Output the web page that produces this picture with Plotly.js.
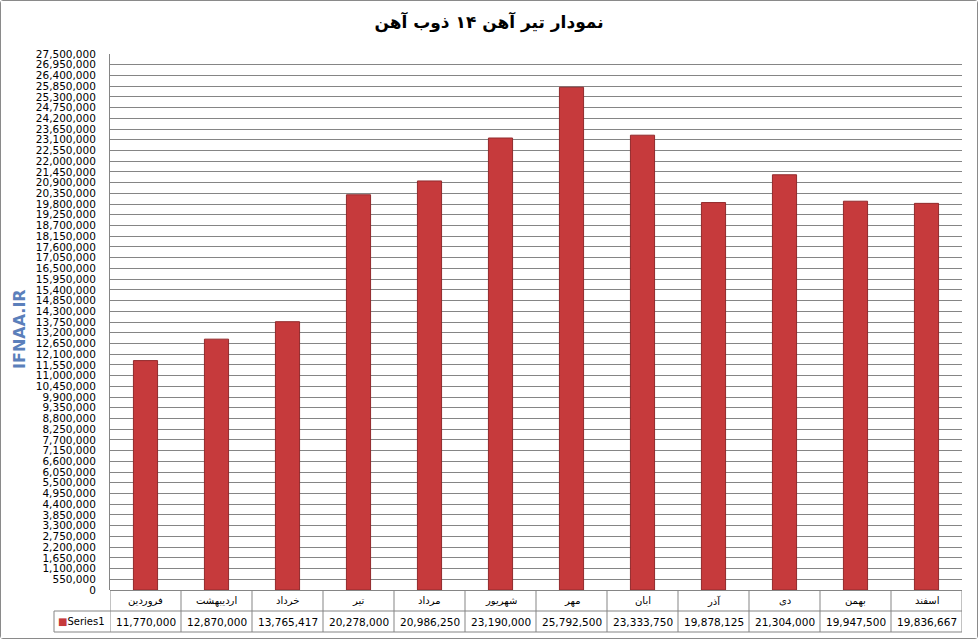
<!DOCTYPE html>
<html>
<head>
<meta charset="utf-8">
<script src="https://cdn.plot.ly/plotly-3.0.1.min.js"></script>
<style>
  html, body { margin: 0; padding: 0; background: #fff; }
  #chart { width: 976px; height: 637px; border: 1px solid #8a8a8a; border-radius: 3px; }
</style>
</head>
<body>
<div id="chart"></div>
<script>
var months = ["فروردین", "اردیبهشت", "خرداد", "تیر", "مرداد", "شهریور",
              "مهر", "ابان", "آذر", "دی", "بهمن", "اسفند"];
var prices = [11770000, 12870000, 13765417, 20278000, 20986250, 23190000,
              25792500, 23333750, 19878125, 21304000, 19947500, 19836667];
var seriesName = "Series1";
var chartTitle = "نمودار تیر آهن ۱۴ ذوب آهن";
var watermark = "IFNAA.IR";

var plotH = 536;
var row1 = -21 / plotH;
var row2 = -42 / plotH;
var gridColor = "#858585";

var idx = months.map(function (m, i) { return i; });

var trace = {
    type: "bar",
    x: idx,
    y: prices,
    name: seriesName,
    width: 0.34,
    marker: { color: "#c63a3c", line: { color: "#922a2c", width: 1 } },
    hoverinfo: "y"
};

// data table underneath the plot
var shapes = [];
for (var i = 0; i <= months.length; i++) {
    shapes.push({ type: "line", xref: "x", yref: "paper",
        x0: i - 0.5, x1: i - 0.5, y0: 0, y1: row2,
        line: { color: gridColor, width: 1 } });
}
shapes.push({ type: "line", xref: "paper", yref: "paper",
    x0: 0, x1: 1, y0: row1, y1: row1, line: { color: gridColor, width: 1 } });
shapes.push({ type: "line", xref: "paper", yref: "paper",
    x0: -56 / 852, x1: 1, y0: row2, y1: row2, line: { color: gridColor, width: 1 } });
shapes.push({ type: "line", xref: "paper", yref: "paper",
    x0: -56 / 852, x1: 0, y0: row1, y1: row1, line: { color: gridColor, width: 1 } });
shapes.push({ type: "line", xref: "paper", yref: "paper",
    x0: -56 / 852, x1: -56 / 852, y0: row1, y1: row2, line: { color: gridColor, width: 1 } });

var annotations = [];
months.forEach(function (m, i) {
    annotations.push({ x: i, y: (row1) / 2, xref: "x", yref: "paper",
        text: m, showarrow: false, yanchor: "middle",
        font: { family: "DejaVu Sans", size: 10, color: "#000" } });
    annotations.push({ x: i, y: (row1 + row2) / 2, xref: "x", yref: "paper",
        text: prices[i].toLocaleString("en-US"), showarrow: false, yanchor: "middle",
        font: { family: "DejaVu Sans", size: 10.5, color: "#000" } });
});
annotations.push({ x: -54 / 852, y: (row1 + row2) / 2, xref: "paper", yref: "paper",
    xanchor: "left", yanchor: "middle", showarrow: false,
    text: "<span style='color:#c63a3c'>■</span>" + seriesName,
    font: { family: "DejaVu Sans", size: 10, color: "#000" } });
annotations.push({ x: -91 / 852, y: (589 - 328) / plotH, xref: "paper", yref: "paper",
    xanchor: "center", yanchor: "middle",
    textangle: -90, showarrow: false, text: "<b>" + watermark + "</b>",
    font: { family: "DejaVu Sans", size: 16, color: "#5b7fbb" } });

var layout = {
    width: 976,
    height: 637,
    margin: { l: 109, r: 15, t: 53, b: 48, pad: 0 },
    paper_bgcolor: "#fff",
    plot_bgcolor: "#fff",
    title: {
        text: "<b>" + chartTitle + "</b>",
        x: 0.5, xref: "container",
        y: 1 - 21 / 637, yref: "container", yanchor: "middle",
        font: { family: "DejaVu Sans", size: 17, color: "#000" }
    },
    showlegend: false,
    xaxis: {
        range: [-0.5, months.length - 0.5],
        showticklabels: false,
        showgrid: false,
        zeroline: false,
        showline: false,
        ticks: ""
    },
    yaxis: {
        range: [0, 27500000],
        dtick: 550000,
        tick0: 0,
        tickformat: ",d",
        showgrid: true,
        gridcolor: gridColor,
        gridwidth: 1,
        zeroline: true,
        zerolinecolor: gridColor,
        showline: true,
        linecolor: gridColor,
        ticks: "",
        ticklabelstandoff: 11,
        tickfont: { family: "DejaVu Sans", size: 10.5, color: "#000" }
    },
    shapes: shapes,
    annotations: annotations
};

Plotly.newPlot("chart", [trace], layout, { displayModeBar: false, staticPlot: true });
</script>
</body>
</html>
